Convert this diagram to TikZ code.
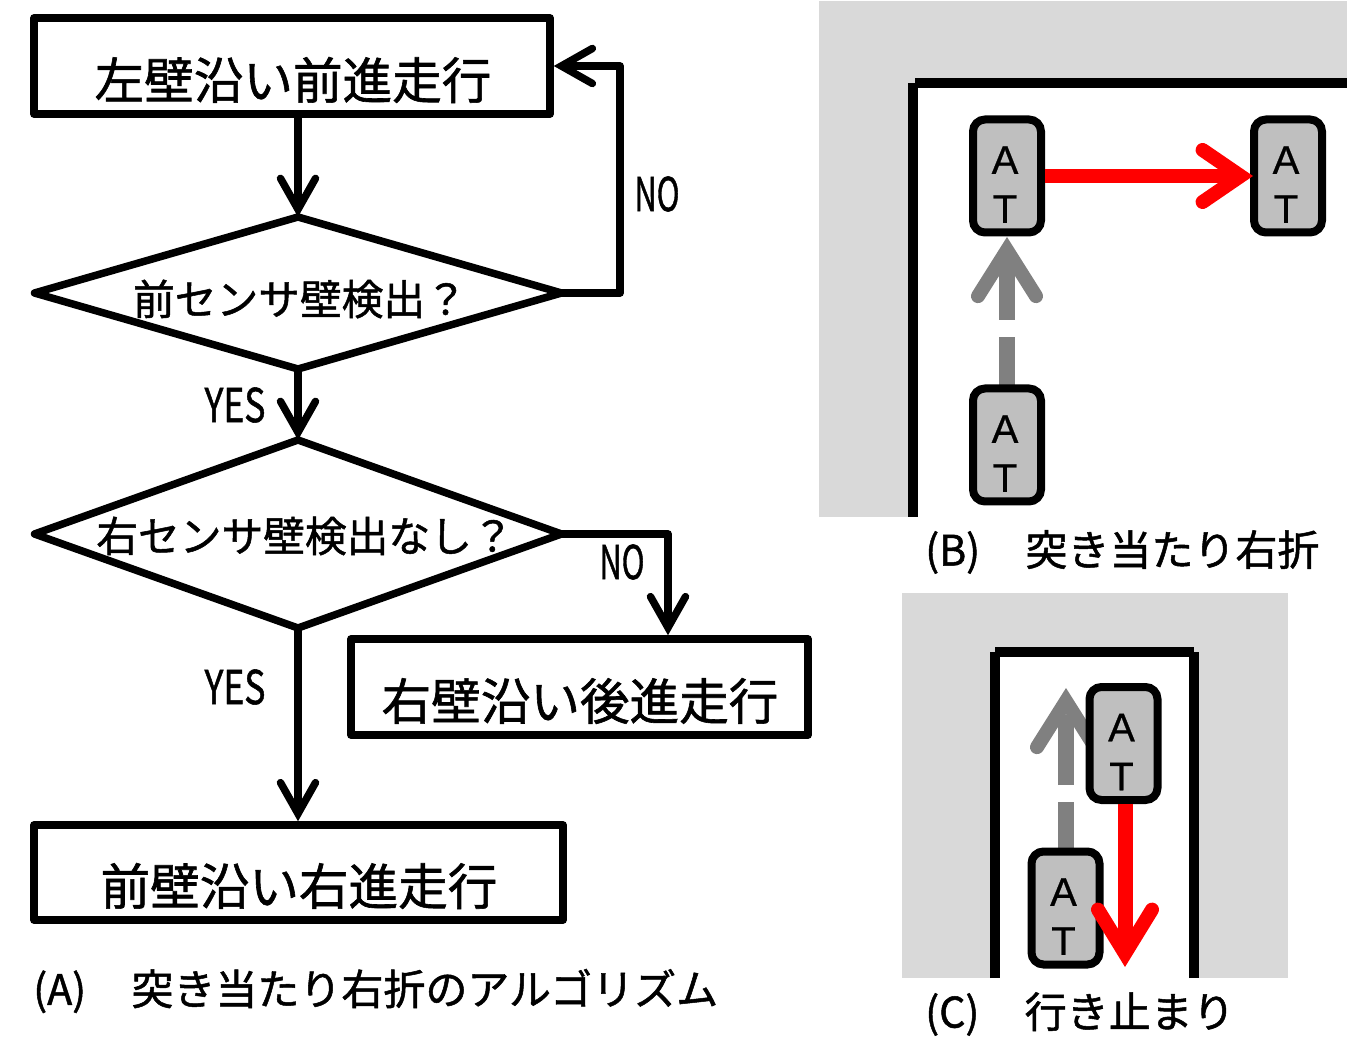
\documentclass[tikz,border=0pt]{standalone}
\usepackage{graphicx}
\usepackage{fontspec}
\usetikzlibrary{arrows.meta,shapes.geometric}
\setmainfont[FakeBold=0.6]{Liberation Sans}
\newfontfamily\cjk[FakeBold=1.2]{Noto Sans CJK JP}
\def\pxu{0.75pt}
\definecolor{wallbg}{HTML}{D9D9D9}
\definecolor{robotfill}{HTML}{BFBFBF}
\definecolor{trackgray}{HTML}{808080}
\newcommand{\narrow}[2][0.66]{\scalebox{#1}[1]{#2}}
\newcommand{\atlabel}{\rule{0pt}{33.5pt}A\hspace*{3pt}\\T\hspace*{3pt}}
\tikzset{
  flowbox/.style={draw=black,line width=7.5*\pxu,fill=white,line join=round,inner sep=0pt},
  flowdia/.style={diamond,draw=black,line width=7.5*\pxu,fill=none,line join=round,inner sep=0pt,outer sep=0pt,minimum width=527*\pxu,minimum height=152*\pxu},
  flowline/.style={line width=7.5*\pxu,line join=round,-{Straight Barb[length=31*\pxu,width=35*\pxu,line cap=round,line join=miter]}},
  boxtext/.style={font=\cjk\fontsize{37.2pt}{40pt}\selectfont,inner sep=0pt},
  diatext/.style={font=\cjk\fontsize{31.3pt}{34pt}\selectfont,inner sep=0pt},
  yesno/.style={font=\cjk\fontsize{35pt}{38pt}\selectfont,inner sep=0pt},
  caption/.style={font=\cjk\fontsize{31.5pt}{34pt}\selectfont,inner sep=0pt,anchor=west},
  robot/.style={draw=black,fill=robotfill,line width=8*\pxu,rounded corners=9pt,minimum width=68*\pxu,minimum height=113*\pxu,inner sep=0pt,align=center,font=\fontsize{30pt}{36.8pt}\selectfont},
  wall/.style={draw=black,line width=10*\pxu,line cap=butt},
  redarrow/.style={draw=red,line width=14*\pxu,-{Straight Barb[length=38*\pxu,width=52*\pxu,line width=14*\pxu,line cap=round,line join=miter]}},
  grayarrow/.style={draw=trackgray,line width=16*\pxu,dash pattern=on 48*\pxu off 17*\pxu on 70*\pxu off 200*\pxu,-{Straight Barb[length=46*\pxu,width=58*\pxu,line width=14*\pxu,line cap=round,line join=miter]}},
}
\begin{document}
\begin{tikzpicture}[x=0.75pt,y=-0.75pt]
\useasboundingbox (0,0) rectangle (1360,1044);
\fill[white] (0,0) rectangle (1360,1044);
% panel B background
\fill[wallbg] (819,1) rectangle (1347,517);
\fill[white] (913,83) rectangle (1347,517);
\coordinate (bw1) at (913,517);
\coordinate (bw2) at (913,83);
\coordinate (bw3) at (1347,83);
\draw[wall] (bw1) -- (bw2);
\draw[wall] (915,83) -- (bw3);
% panel C background
\fill[wallbg] (902,593) rectangle (1288,978);
\fill[white] (995,652) rectangle (1194,978);
\coordinate (cw1) at (995,978);
\coordinate (cw2) at (995,652);
\coordinate (cw3) at (1194,652);
\coordinate (cw4) at (1194,978);
\draw[wall] (cw1) -- (cw2);
\draw[wall] (cw4) -- (cw3);
\draw[wall] (cw2) -- (cw3);
% flowchart nodes
\node[flowbox,minimum width=516*\pxu,minimum height=96*\pxu] (b1) at (292,66) {};
\node[flowdia] (d1) at (298,293) {};
\node[flowdia,minimum height=188*\pxu] (d2) at (298,534) {};
\node[flowbox,minimum width=457*\pxu,minimum height=96*\pxu] (b2) at (579.5,687) {};
\node[flowbox,minimum width=529*\pxu,minimum height=95*\pxu] (b3) at (298.5,872.5) {};
\node[boxtext] (t1) at (293,80) {左壁沿い前進走行};
\node[diatext] (t2) at (300,299) {前センサ壁検出？};
\node[diatext] (t3) at (305,536) {右センサ壁検出なし？};
\node[boxtext] (t4) at (580,701) {右壁沿い後進走行};
\node[boxtext] (t5) at (299,886) {前壁沿い右進走行};
\coordinate (n1) at (620,66);
\coordinate (n2) at (668,534);
\draw[flowline] (d1.north |- b1.south) -- (d1.north);
\draw[flowline] (d1.east) -| (n1) -- (b1.east);
\draw[flowline] (d1.south) -- (d2.north);
\draw[flowline] (d2.east) -- (n2) -- (n2 |- b2.north);
\draw[flowline] (d2.south) -- (d2.south |- b3.north);
\node[yesno] (l1) at (657,194) {\narrow{NO}};
\node[yesno] (l2) at (235,405) {\narrow[0.76]{YES}};
\node[yesno] (l3) at (622,562) {\narrow{NO}};
\node[yesno] (l4) at (235,687) {\narrow[0.76]{YES}};
\node[caption] (ca) at (33,991) {\narrow[0.98]{(A)}\hspace{34pt}突き当たり右折のアルゴリズム};
\node[caption] (cb) at (925,552) {\narrow[0.98]{(B)}\hspace{34pt}突き当たり右折};
\node[caption] (cc) at (925,1014) {\narrow[0.98]{(C)}\hspace{34pt}行き止まり};
% panel B robots
\coordinate (r3top) at (1007,385);
\coordinate (r1bot) at (1007,237);
\draw[grayarrow] (r3top) -- (r1bot);
\node[robot] (r1) at (1007,176) {\atlabel};
\node[robot] (r2) at (1288,176) {\atlabel};
\node[robot] (r3) at (1007,445) {\atlabel};
\draw[redarrow,shorten >=-3*\pxu] (r1.east) -- (r2.west);
% panel C robots
\coordinate (c2top) at (1066,850);
\coordinate (c1tip) at (1066,688);
\draw[grayarrow] (c2top) -- (c1tip);
\node[robot] (c1) at (1123.5,743.5) {\atlabel};
\node[robot] (c2) at (1065.5,908) {\atlabel};
\coordinate (c1end) at (1125,967);
\draw[redarrow,line width=15*\pxu,-{Straight Barb[length=44*\pxu,width=54*\pxu,line width=14*\pxu,line cap=round,line join=miter]}] (c1end |- c1.south) -- (c1end);
\end{tikzpicture}
\end{document}
